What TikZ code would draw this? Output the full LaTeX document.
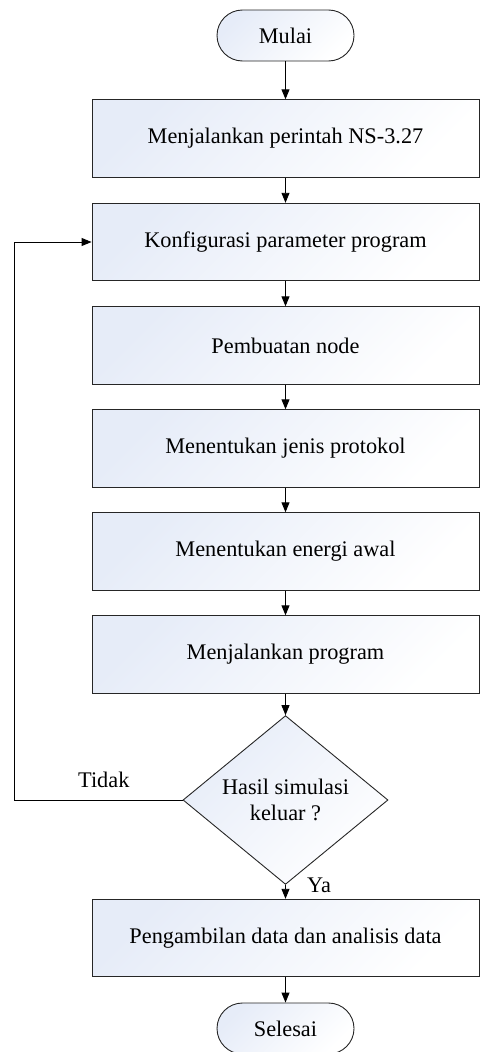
\documentclass[tikz,border=0pt]{standalone}
\usepackage{fontspec}
\setmainfont{Liberation Serif}
\usetikzlibrary{arrows.meta,shapes.geometric}
\definecolor{fillc}{RGB}{230,236,248}
\tikzset{
 base/.style={draw=black!85, line width=0.9pt, top color=fillc, bottom color=white, shading angle=45, font=\fontsize{22.3}{26}\selectfont, inner sep=0pt, align=center},
 proc/.style={base, rectangle, minimum width=387pt, minimum height=77.5pt},
 term/.style={base, rectangle, rounded corners=25.5pt, minimum width=137pt, minimum height=51pt},
 dec/.style={base, diamond, minimum width=205pt, minimum height=164pt},
 arr/.style={line width=0.9pt, -{Triangle[length=10pt,width=8pt]}},
 lbl/.style={font=\fontsize{22.3}{26}\selectfont, inner sep=0pt, anchor=base west},
}
\begin{document}
\begin{tikzpicture}[x=1pt,y=-1pt]
\useasboundingbox (0,0) rectangle (480,1052);
\node[term] (start) at (285.5,35.5) {Mulai};
\node[proc] (p1) at (285.5,138.5) {Menjalankan perintah NS-3.27};
\node[proc] (p2) at (285.5,242) {Konfigurasi parameter program};
\node[proc] (p3) at (285.5,345.5) {Pembuatan node};
\node[proc] (p4) at (285.5,448.5) {Menentukan jenis protokol};
\node[proc] (p5) at (285.5,551.5) {Menentukan energi awal};
\node[proc] (p6) at (285.5,654.5) {Menjalankan program};
\node[dec] (d) at (285.5,800) {Hasil simulasi\\keluar ?};
\node[proc] (p7) at (285.5,938) {Pengambilan data dan analisis data};
\node[term] (end) at (285.5,1028.5) {Selesai};
\coordinate (lx) at (14,0);
\node[lbl] (tidak) at (78,787) {Tidak};
\node[lbl] (ya) at (307,892) {Ya};
\draw[arr] (start) -- (p1);
\draw[arr] (p1) -- (p2);
\draw[arr] (p2) -- (p3);
\draw[arr] (p3) -- (p4);
\draw[arr] (p4) -- (p5);
\draw[arr] (p5) -- (p6);
\draw[arr] (p6) -- (d);
\draw[arr] (d) -- (p7);
\draw[arr] (p7) -- (end);
\draw[arr] (d.west) -- (d.west -| lx) |- (p2.west);
\end{tikzpicture}
\end{document}
